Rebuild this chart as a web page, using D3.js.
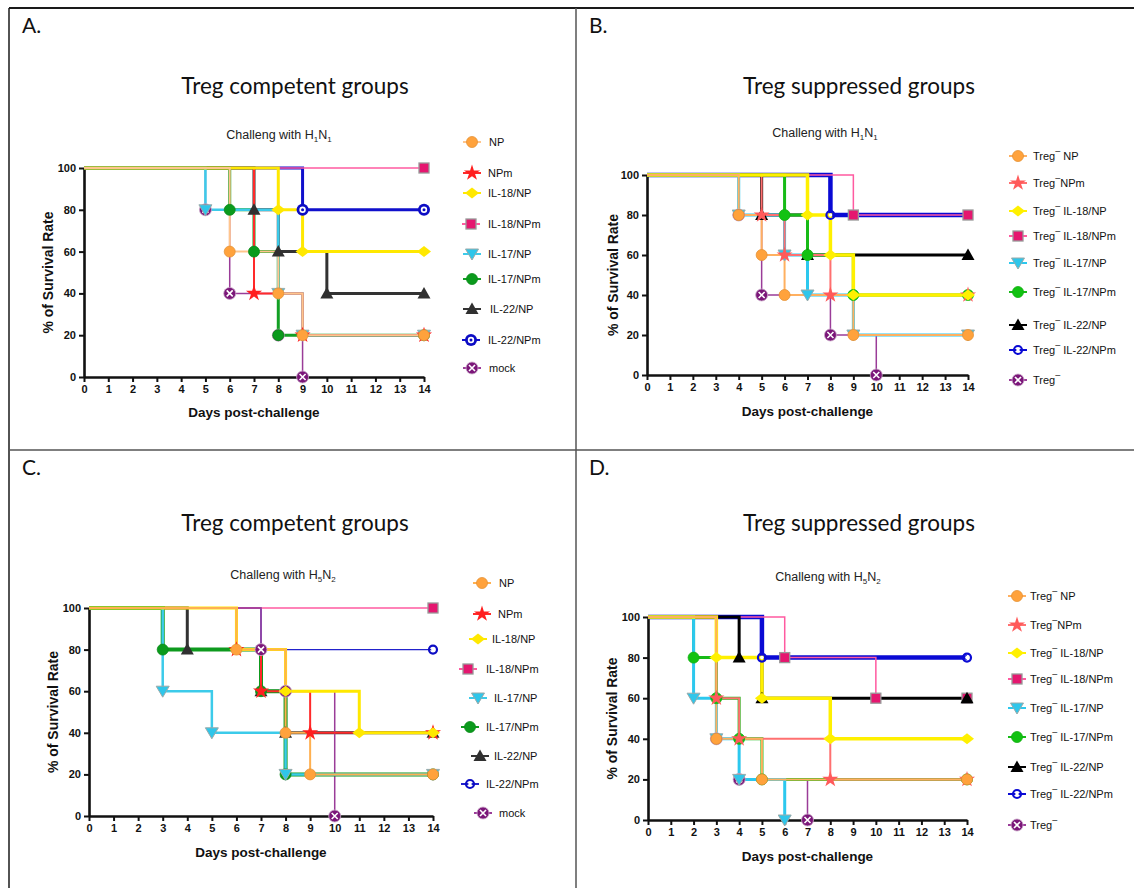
<!DOCTYPE html>
<html>
<head>
<meta charset="utf-8">
<script src="https://cdn.jsdelivr.net/npm/d3@7"></script>
<style>
  body { margin: 0; background: #fff; }
  svg text { font-family: "Liberation Sans", Arial, sans-serif; fill: #111; }
  .head { font-family: Lato, "Open Sans", sans-serif; }
</style>
</head>
<body>
<div id="fig"></div>
<script>
const days = d3.range(0, 15);
const survivalTicks = [0, 20, 40, 60, 80, 100];

const competentGroups = ["NP", "NPm", "IL-18/NP", "IL-18/NPm", "IL-17/NP", "IL-17/NPm", "IL-22/NP", "IL-22/NPm", "mock"];
// suppressed groups are drawn as "Treg" + superscript minus + suffix
const suppressedGroups = [" NP", "NPm", " IL-18/NP", " IL-18/NPm", " IL-17/NP", " IL-17/NPm", " IL-22/NP", " IL-22/NPm", ""];

// [day, % survival] at each step, same order as the group lists
const h1n1Competent = [
  [[0, 100], [6, 60], [8, 40], [9, 20], [14, 20]],
  [[0, 100], [7, 40], [9, 20], [14, 20]],
  [[0, 100], [8, 80], [9, 60], [14, 60]],
  [[0, 100], [14, 100]],
  [[0, 100], [5, 80], [8, 40], [9, 20], [14, 20]],
  [[0, 100], [6, 80], [7, 60], [8, 20], [14, 20]],
  [[0, 100], [7, 80], [8, 60], [10, 40], [14, 40]],
  [[0, 100], [9, 80], [14, 80]],
  [[0, 100], [5, 80], [6, 40], [8, 20], [9, 0]]
];
const h1n1Suppressed = [
  [[0, 100], [4, 80], [5, 60], [6, 40], [9, 20], [14, 20]],
  [[0, 100], [5, 80], [6, 60], [8, 40], [14, 40]],
  [[0, 100], [7, 80], [8, 60], [9, 40], [14, 40]],
  [[0, 100], [9, 80], [14, 80]],
  [[0, 100], [4, 80], [6, 60], [7, 40], [9, 20], [14, 20]],
  [[0, 100], [6, 80], [7, 60], [9, 40], [14, 40]],
  [[0, 100], [5, 80], [7, 60], [14, 60]],
  [[0, 100], [8, 80], [14, 80]],
  [[0, 100], [4, 80], [5, 40], [8, 20], [10, 0]]
];
const h5n2Competent = [
  [[0, 100], [6, 80], [8, 40], [9, 20], [14, 20]],
  [[0, 100], [6, 80], [7, 60], [9, 40], [14, 40]],
  [[0, 100], [6, 80], [8, 60], [11, 40], [14, 40]],
  [[0, 100], [14, 100]],
  [[0, 100], [3, 60], [5, 40], [8, 20], [14, 20]],
  [[0, 100], [3, 80], [7, 60], [8, 20], [14, 20]],
  [[0, 100], [4, 80], [7, 60], [8, 40], [14, 40]],
  [[0, 100], [7, 80], [14, 80]],
  [[0, 100], [7, 80], [8, 60], [10, 0]]
];
const h5n2Suppressed = [
  [[0, 100], [3, 40], [5, 20], [14, 20]],
  [[0, 100], [3, 60], [4, 40], [8, 20], [14, 20]],
  [[0, 100], [3, 80], [5, 60], [8, 40], [14, 40]],
  [[0, 100], [6, 80], [10, 60], [14, 60]],
  [[0, 100], [2, 60], [3, 40], [4, 20], [6, 0]],
  [[0, 100], [2, 80], [3, 60], [4, 40], [5, 20], [14, 20]],
  [[0, 100], [4, 80], [5, 60], [14, 60]],
  [[0, 100], [5, 80], [14, 80]],
  [[0, 100], [3, 40], [4, 20], [7, 0]]
];

// look of each group: marker shape, marker colour, line colour, line width
const competentStyle = [
  { shape: 'circle', fill: '#ffa23c', line: '#ffc58c', w: 2 },
  { shape: 'star', fill: '#ff1f1f', line: '#ff2a2a', w: 2 },
  { shape: 'diamond', fill: '#ffe800', line: '#ffe800', w: 3 },
  { shape: 'square', fill: '#e5166f', line: '#ff5aa0', w: 1.5 },
  { shape: 'triDown', fill: '#2fc6ea', line: '#3ccbea', w: 2.5 },
  { shape: 'circle', fill: '#0b9a1c', line: '#13a024', w: 3 },
  { shape: 'triUp', fill: '#303030', line: '#333333', w: 3 },
  { shape: 'ring', fill: '#0c0cc4', line: '#1010cc', w: 3 },
  { shape: 'cross', fill: '#7b1679', line: '#9a3c98', w: 1.5 }
];
// the H5N2 competent plot uses a thin blue line and a heavier green one
const competentStyleH5 = competentStyle.map((s, i) => {
  if (i === 0) return { ...s, line: '#ffb050' };
  if (i === 5) return { ...s, w: 4, line: '#0e9a1e' };
  if (i === 7) return { ...s, shape: 'dotRing', w: 1.3, line: '#2222cc' };
  return s;
});
const suppressedStyle = [
  { shape: 'circle', fill: '#ffa23c', line: '#ffb060', w: 2 },
  { shape: 'star', fill: '#ff5a5a', line: '#ff7070', w: 2 },
  { shape: 'diamond', fill: '#fff000', line: '#fff000', w: 3.5 },
  { shape: 'square', fill: '#e5166f', line: '#ff5aa0', w: 1.5 },
  { shape: 'triDown', fill: '#2fc6ea', line: '#2cc8ee', w: 3 },
  { shape: 'circle', fill: '#12c212', line: '#17bb17', w: 3 },
  { shape: 'triUp', fill: '#000000', line: '#000000', w: 3 },
  { shape: 'dotRing', fill: '#0a0ad4', line: '#0a0ad4', w: 4.5 },
  { shape: 'cross', fill: '#7b1679', line: '#9a3c98', w: 1.5 }
];
// order the lines are drawn in (last one on top)
const drawOrder = [7, 3, 6, 8, 5, 4, 1, 2, 0];

const panels = [
  { letter: 'A.', lx: 22, ly: 33, heading: 'Treg competent groups', hx: 295, hy: 94, sub: ['1', '1'],
    left: 84, right: 424, top: 168, bottom: 377, tx: 279, ty: 139, xty: 417, ytx: 53,
    data: h1n1Competent, style: competentStyle, names: competentGroups, suppressed: false,
    legX: [472, 472, 472, 471, 472, 472, 472, 471, 472], legTx: [489, 488, 488, 488, 488, 488, 490, 488, 489],
    legY: [142, 173, 193, 224, 254, 279, 309, 340, 368] },
  { letter: 'B.', lx: 589, ly: 33, heading: 'Treg suppressed groups', hx: 859, hy: 94, sub: ['1', '1'],
    left: 647, right: 968, top: 175, bottom: 375, tx: 825, ty: 137, xty: 416, ytx: 618,
    data: h1n1Suppressed, style: suppressedStyle, names: suppressedGroups, suppressed: true,
    legX: Array(9).fill(1018), legTx: Array(9).fill(1033),
    legY: [156, 183, 211, 236, 263, 292, 325, 350, 380] },
  { letter: 'C.', lx: 22, ly: 475, heading: 'Treg competent groups', hx: 295, hy: 531, sub: ['5', '2'],
    left: 89, right: 433, top: 608, bottom: 816, tx: 283, ty: 579, xty: 857, ytx: 58,
    data: h5n2Competent, style: competentStyleH5, names: competentGroups, suppressed: false,
    legX: [482, 482, 478, 468, 478, 470, 480, 470, 483], legTx: [499, 498, 492, 486, 494, 486, 494, 486, 499],
    legY: [583, 614, 639, 669, 698, 727, 756, 784, 813] },
  { letter: 'D.', lx: 589, ly: 475, heading: 'Treg suppressed groups', hx: 859, hy: 531, sub: ['5', '2'],
    left: 648, right: 967, top: 617, bottom: 820, tx: 828, ty: 581, xty: 861, ytx: 617,
    data: h5n2Suppressed, style: suppressedStyle, names: suppressedGroups, suppressed: true,
    legX: Array(9).fill(1017), legTx: Array(9).fill(1030),
    legY: [596, 625, 653, 679, 708, 737, 767, 794, 825] }
];

const width = 1134;
const height = 888;
const svg = d3.select('#fig').append('svg').attr('width', width).attr('height', height);

// table borders
const border = svg.append('g').attr('fill', 'none');
border.append('line').attr('x1', 9).attr('y1', 8).attr('x2', width).attr('y2', 8).attr('stroke', '#1a1a1a').attr('stroke-width', 2);
border.append('line').attr('x1', 9).attr('y1', 8).attr('x2', 9).attr('y2', height).attr('stroke', '#1a1a1a').attr('stroke-width', 1.5);
border.append('line').attr('x1', 576).attr('y1', 8).attr('x2', 576).attr('y2', height).attr('stroke', '#555').attr('stroke-width', 1.5);
border.append('line').attr('x1', 9).attr('y1', 450).attr('x2', width).attr('y2', 450).attr('stroke', '#555').attr('stroke-width', 1.5);

function drawMarker(g, shape, fill) {
  if (shape === 'circle') {
    g.append('circle').attr('r', 5.5).attr('fill', fill).attr('stroke', d3.color(fill).darker(0.3)).attr('stroke-width', 0.8);
  } else if (shape === 'star') {
    g.append('path').attr('d', d3.symbol(d3.symbolStar, 80)()).attr('fill', fill);
  } else if (shape === 'diamond') {
    g.append('path').attr('d', 'M-7,0L0,-5.5L7,0L0,5.5Z').attr('fill', fill);
  } else if (shape === 'square') {
    g.append('rect').attr('x', -5).attr('y', -5).attr('width', 10).attr('height', 10)
      .attr('fill', fill).attr('stroke', '#999').attr('stroke-width', 1.3);
  } else if (shape === 'triDown') {
    g.append('path').attr('d', 'M-6.5,-5L6.5,-5L0,6Z').attr('fill', fill).attr('stroke', '#9aa').attr('stroke-width', 1);
  } else if (shape === 'triUp') {
    g.append('path').attr('d', 'M-6.5,5L6.5,5L0,-6.5Z').attr('fill', fill);
  } else if (shape === 'ring') {
    g.append('circle').attr('r', 6).attr('fill', fill);
    g.append('circle').attr('r', 3.2).attr('fill', '#fff');
    g.append('circle').attr('r', 1.5).attr('fill', fill);
  } else if (shape === 'dotRing') {
    g.append('circle').attr('r', 4).attr('fill', 'none').attr('stroke', fill).attr('stroke-width', 2.2);
    g.append('circle').attr('r', 1.8).attr('fill', '#fff');
  } else if (shape === 'cross') {
    g.append('circle').attr('r', 6).attr('fill', fill).attr('stroke', '#c9a8c8').attr('stroke-width', 0.8);
    g.append('path').attr('d', 'M-3,-3L3,3M-3,3L3,-3').attr('stroke', '#fff').attr('stroke-width', 1.6);
  }
}

function titleWithSubs(g, x, y, sub) {
  const t = g.append('text').attr('x', x).attr('y', y).attr('text-anchor', 'middle')
    .style('font-size', '12.5px').style('fill', '#222');
  t.append('tspan').text('Challeng with H');
  t.append('tspan').attr('dy', 3).style('font-size', '8px').text(sub[0]);
  t.append('tspan').attr('dy', -3).text('N');
  t.append('tspan').attr('dy', 3).style('font-size', '8px').text(sub[1]);
}

function drawPanel(p) {
  const g = svg.append('g');
  const x = d3.scaleLinear().domain([0, 14]).range([p.left, p.right]);
  const y = d3.scaleLinear().domain([0, 100]).range([p.bottom, p.top]);

  g.append('text').attr('class', 'head').attr('x', p.lx).attr('y', p.ly).style('font-size', '21px').text(p.letter);
  g.append('text').attr('class', 'head').attr('x', p.hx).attr('y', p.hy).attr('text-anchor', 'middle')
    .style('font-size', '22.5px').text(p.heading);

  titleWithSubs(g, p.tx, p.ty, p.sub);

  // axes
  const xAxis = g.append('g').attr('transform', `translate(0,${p.bottom})`)
    .call(d3.axisBottom(x).tickValues(days).tickSize(5).tickSizeOuter(0).tickPadding(3));
  const yAxis = g.append('g').attr('transform', `translate(${p.left},0)`)
    .call(d3.axisLeft(y).tickValues(survivalTicks).tickSize(5).tickSizeOuter(0).tickPadding(3));
  [xAxis, yAxis].forEach(a => {
    a.select('.domain').attr('stroke', '#111').attr('stroke-width', 2.6);
    a.selectAll('.tick line').attr('stroke', '#111').attr('stroke-width', 2);
    a.selectAll('.tick text').style('font-size', '11px').style('font-weight', 'bold')
      .style('font-family', '"Liberation Sans", Arial, sans-serif').attr('fill', '#111');
  });

  g.append('text').attr('x', (p.left + p.right) / 2).attr('y', p.xty).attr('text-anchor', 'middle')
    .style('font-size', '13.5px').style('font-weight', 'bold').text('Days post-challenge');
  g.append('text').attr('transform', `translate(${p.ytx},${(p.top + p.bottom) / 2}) rotate(-90)`)
    .attr('text-anchor', 'middle').style('font-size', '14px').style('font-weight', 'bold').text('% of Survival Rate');

  // survival curves
  const line = d3.line().x(d => x(d[0])).y(d => y(d[1])).curve(d3.curveStepAfter);
  drawOrder.forEach(i => {
    g.append('path').datum(p.data[i]).attr('d', line).attr('fill', 'none')
      .attr('stroke', p.style[i].line).attr('stroke-width', p.style[i].w);
  });
  drawOrder.forEach(i => {
    p.data[i].slice(1).forEach(d => {
      const m = g.append('g').attr('transform', `translate(${x(d[0])},${y(d[1])})`);
      drawMarker(m, p.style[i].shape, p.style[i].fill);
    });
  });

  // legend
  p.names.forEach((name, i) => {
    const s = p.style[i];
    g.append('line').attr('x1', p.legX[i] - 9).attr('x2', p.legX[i] + 9)
      .attr('y1', p.legY[i]).attr('y2', p.legY[i]).attr('stroke', s.line).attr('stroke-width', 2);
    drawMarker(g.append('g').attr('transform', `translate(${p.legX[i]},${p.legY[i]})`), s.shape, s.fill);
    const t = g.append('text').attr('x', p.legTx[i]).attr('y', p.legY[i] + 4).style('font-size', '11px');
    if (p.suppressed) {
      t.append('tspan').text('Treg');
      t.append('tspan').attr('dy', -6).style('font-size', '9px').text('\u2013');
      t.append('tspan').attr('dy', 6).text(name);
    } else {
      t.text(name);
    }
  });
}

panels.forEach(drawPanel);
</script>
</body>
</html>
